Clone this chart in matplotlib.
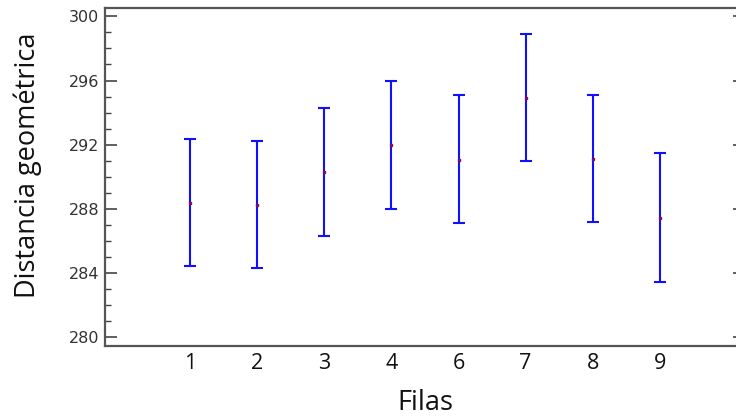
import matplotlib
matplotlib.use("Agg")
import matplotlib.pyplot as plt
from matplotlib.ticker import MultipleLocator

filas = ["1", "2", "3", "4", "6", "7", "8", "9"]
medias = [288.37, 288.24, 290.30, 291.98, 291.05, 294.91, 291.13, 287.43]
inferior = [284.44, 284.34, 286.33, 288.02, 287.10, 291.00, 287.20, 283.47]
superior = [292.34, 292.25, 294.28, 295.97, 295.10, 298.90, 295.10, 291.48]

fig = plt.figure(figsize=(7.36, 4.18), dpi=100)
ax = fig.add_axes([105/736, (418-345.7)/418, 640/736, (345.7-7.5)/418])

x = list(range(len(filas)))
err_lo = [m - l for m, l in zip(medias, inferior)]
err_hi = [u - m for m, u in zip(medias, superior)]
ax.errorbar(x, medias, yerr=[err_lo, err_hi], fmt="none", ecolor="#1010ff",
            elinewidth=1.5, capsize=4.5, capthick=1.5, zorder=2)
ax.plot(x, medias, linestyle="none", marker="s", markersize=1.8,
        color="#8b0a50", zorder=3)

ax.set_xlim(-1.27, 8.27)
ax.set_ylim(279.48, 300.55)
ax.set_xticks(x)
ax.set_xticklabels(filas, fontsize=15.5, family="Open Sans", color="#111111")
ax.yaxis.set_major_locator(MultipleLocator(4))
ax.yaxis.set_minor_locator(MultipleLocator(1))
ax.tick_params(axis="x", length=0, pad=5)
ax.tick_params(axis="y", which="major", direction="in", length=8.5, width=1.2,
               color="#444444", labelsize=11.5, labelcolor="#333333",
               right=True, pad=4)
ax.tick_params(axis="y", which="minor", direction="in", length=4.5, width=1.0,
               color="#444444", right=True)
for lbl in ax.get_yticklabels():
    lbl.set_family("DejaVu Sans")

for s in ax.spines.values():
    s.set_color("#555555")
    s.set_linewidth(1.6)

ax.set_ylabel("Distancia geométrica", fontsize=19.5, family="Open Sans",
              color="#111111", va="center")
ax.yaxis.set_label_coords(-0.12, 0.535)
ax.set_xlabel("Filas", fontsize=19.5, family="Open Sans", color="#111111",
              va="center")
ax.xaxis.set_label_coords(0.5, -0.17)

fig.savefig("out.png", dpi=100)
